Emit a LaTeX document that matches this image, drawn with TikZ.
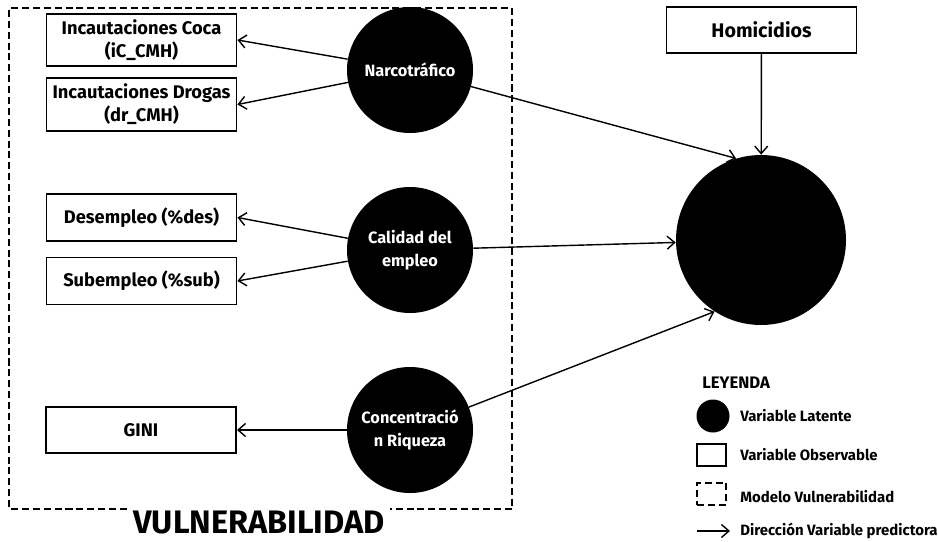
\documentclass[tikz,border=0pt]{standalone}
\usepackage{fontspec}
\setmainfont{Fira Sans}
\usetikzlibrary{positioning,arrows.meta}

\tikzset{
  latente/.style={circle, fill=black, text=white, minimum size=25.2mm, inner sep=0pt,
    align=center, font=\bfseries\fontsize{9.3}{13}\selectfont},
  observ/.style={draw, line width=1.1pt, minimum width=38mm, minimum height=9.4mm,
    align=center, font=\bfseries\fontsize{10.4}{13}\selectfont},
  flecha/.style={-{Straight Barb[length=1.5mm,width=2.6mm]}, line width=0.8pt},
  leyenda/.style={anchor=west, inner xsep=0pt, font=\bfseries\fontsize{8.5}{10}\selectfont},
  modelo/.style={dash pattern=on 4pt off 2.2pt, line width=0.8pt},
}

\begin{document}
\begin{tikzpicture}[x=0.2mm,y=-0.2mm]
    \useasboundingbox (0,0) rectangle (938,542);

    % modelo de vulnerabilidad
    \node[anchor=base, inner sep=0pt,
      font=\bfseries\fontsize{18.5}{20}\selectfont] (vuln) at (259,533) {VULNERABILIDAD};
    \coordinate (mA) at (127,509);
    \coordinate (mB) at (390,509);
    \draw[modelo] (mA) -- (9,509) -- (9,8) -- (512,8) -- (512,509) -- (mB);

    % variables latentes
    \node[latente] (narco) at (410,70) {Narcotráfico};
    \node[latente] (calidad) at (410,250) {Calidad del\\empleo};
    \node[latente] (riqueza) at (410,430) {Concentració\\n Riqueza};
    \node[latente, minimum size=34mm] (vulnlat) at (761,240) {};

    % variables observables
    \node[observ, minimum height=10mm] (coca) at (141.5,40) {Incautaciones Coca\\(iC\_CMH)};
    \node[observ, minimum height=10mm] (drogas) at (141.5,104.5) {Incautaciones Drogas\\(dr\_CMH)};
    \node[observ] (desemp) at (141.5,217.5) {Desempleo (\%des)};
    \node[observ] (subemp) at (141.5,281) {Subempleo (\%sub)};
    \node[observ, minimum height=9.2mm] (gini) at (141,430) {GINI};
    \node[observ, minimum height=9.2mm, font=\bfseries\fontsize{11.2}{13}\selectfont] (homic) at (761.5,30) {Homicidios};

    % relaciones
    \draw[flecha] (narco) -- (coca.east);
    \draw[flecha] (narco) -- (drogas.east);
    \draw[flecha] (calidad) -- (desemp.east);
    \draw[flecha] (calidad) -- (subemp.east);
    \draw[flecha] (riqueza) -- (gini.east);
    \draw[flecha] (narco) -- (vulnlat.107);
    \draw[flecha] (homic) -- (vulnlat);
    \draw[flecha] (calidad) -- (vulnlat);
    \draw[flecha] (riqueza) -- (vulnlat.237);

    % leyenda
    \node[anchor=west, inner xsep=0pt, font=\bfseries\fontsize{9.5}{11}\selectfont] (leyenda) at (702,383) {LEYENDA};
    \node[circle, fill=black, minimum size=6.6mm, inner sep=0pt] (leglat) at (713,416) {};
    \node[leyenda] (txtlat) at (740,416) {Variable Latente};
    \node[draw, line width=1.1pt, minimum width=5.8mm, minimum height=4.4mm] (legobs) at (711.5,455) {};
    \node[leyenda] (txtobs) at (740,455) {Variable Observable};
    \node[draw, modelo, minimum width=5.8mm, minimum height=4.4mm] (legmod) at (711.5,494) {};
    \node[leyenda] (txtmod) at (740,497) {Modelo Vulnerabilidad};
    \coordinate (legA) at (697,531);
    \coordinate (legB) at (730,531);
    \draw[flecha] (legA) -- (legB);
    \node[leyenda] (txtdir) at (740,531) {Dirección Variable predictora};
\end{tikzpicture}
\end{document}
